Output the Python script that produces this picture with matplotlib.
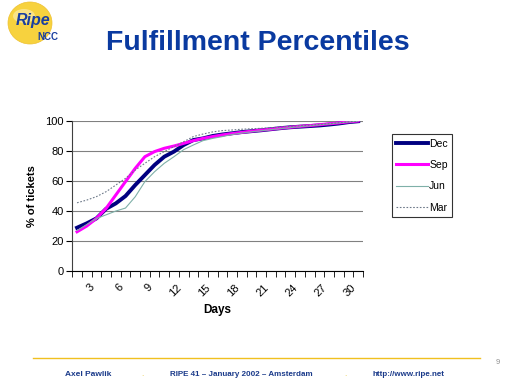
import matplotlib
matplotlib.use('Agg')
import matplotlib.pyplot as plt
from matplotlib.patches import Ellipse
from matplotlib.lines import Line2D

plt.rcParams['font.family'] = ['Liberation Sans', 'DejaVu Sans']

# --- datos ---
days = list(range(1, 31))
dec = [28.9, 31.8, 35.1, 41.5, 45.1, 50.0, 57.3, 64.0, 70.7, 76.2,
       79.6, 84.0, 87.3, 88.4, 90.0, 91.0, 91.8, 92.6, 93.2, 93.8,
       94.5, 95.2, 95.8, 96.2, 96.6, 97.0, 97.6, 98.3, 99.2, 99.8]
sep = [26.2, 30.0, 35.1, 41.8, 50.7, 59.6, 68.4, 76.2, 79.6, 81.8,
       83.3, 85.1, 86.9, 88.4, 89.6, 90.7, 91.6, 92.4, 93.2, 93.9,
       94.5, 95.2, 95.8, 96.4, 96.9, 97.5, 98.1, 98.7, 99.4, 100.0]
jun = [27.0, 31.0, 35.0, 37.5, 40.0, 42.0, 49.5, 59.6, 66.2, 71.8,
       76.2, 80.9, 84.0, 86.9, 88.4, 89.6, 91.0, 92.0, 92.8, 93.5,
       94.2, 94.9, 95.6, 96.2, 96.8, 97.4, 98.0, 98.7, 99.3, 99.9]
mar = [45.5, 47.3, 49.6, 52.9, 57.3, 61.8, 67.3, 71.8, 76.2, 79.6,
       82.9, 86.2, 89.6, 91.3, 92.7, 93.6, 94.0, 94.5, 94.8, 95.1,
       95.5, 96.0, 96.4, 96.8, 97.2, 97.7, 98.2, 98.8, 99.4, 100.0]
series = [('Dec', dec), ('Sep', sep), ('Jun', jun), ('Mar', mar)]
y_ticks = [0, 20, 40, 60, 80, 100]
x_labels = [3, 6, 9, 12, 15, 18, 21, 24, 27, 30]

estilos = {
    'Dec': dict(color='#000080', lw=2.8, ls='-'),
    'Sep': dict(color='#ff00ff', lw=2.2, ls='-'),
    'Jun': dict(color='#7fb0a8', lw=0.8, ls='-'),
    'Mar': dict(color='#6e7a8a', lw=0.8, ls=(0, (1.5, 1.5))),
}

fig = plt.figure(figsize=(5.12, 3.84), dpi=100)
fig.patch.set_facecolor('white')

ax = fig.add_axes([0.141, 0.294, 0.568, 0.391])
for nombre, vals in series:
    ax.plot(days, vals, label=nombre, **estilos[nombre])

ax.set_xlim(0.5, 30.5)
ax.set_ylim(0, 100)
ax.set_yticks(y_ticks)
ax.yaxis.grid(True, color='#808080', lw=0.8)
ax.set_axisbelow(True)
ax.tick_params(axis='y', labelsize=8, length=4, width=0.8, colors='black', pad=2)
ax.set_xticks(x_labels)
ax.set_xticklabels([str(v) for v in x_labels], rotation=45, ha='right', va='top')
ax.set_xticks([d + 0.5 for d in range(0, 31)], minor=True)
ax.tick_params(axis='x', which='major', length=0, labelsize=8, pad=8)
ax.tick_params(axis='x', which='minor', length=4, width=0.6)
for s in ['top', 'right']:
    ax.spines[s].set_visible(False)
ax.spines['left'].set_color('#404040')
ax.spines['bottom'].set_color('black')
ax.set_ylabel('% of tickets', fontsize=8, fontweight='bold', labelpad=6)
ax.set_xlabel('Days', fontsize=8.5, fontweight='bold', labelpad=4)

handles = [Line2D([], [], **estilos[n]) for n, _ in series]
leg = fig.legend(handles, [n for n, _ in series], loc='upper left',
                 bbox_to_anchor=(0.766, 0.650), fontsize=7.5, frameon=True,
                 fancybox=False, edgecolor='black', handlelength=3.0,
                 handletextpad=0.15, labelspacing=1.1, borderpad=0.4,
                 borderaxespad=0)
leg.get_frame().set_linewidth(0.8)

# titulo
fig.text(0.503, 0.888, 'Fulfillment Percentiles', fontsize=20.5, fontweight='bold',
         color='#0a3aa0', ha='center', va='center')

# logo
fig.patches.append(Ellipse((30 / 512, 1 - 23 / 384), 44 / 512, 42 / 384,
                           transform=fig.transFigure, facecolor='#f7d23e',
                           edgecolor='#eec030', lw=0.5))
fig.patches.append(Ellipse((24 / 512, 1 - 16 / 384), 22 / 512, 14 / 384,
                           transform=fig.transFigure, facecolor='#fbe89a',
                           edgecolor='none', alpha=0.8))
fig.text(33 / 512, 1 - 21 / 384, 'Ripe', fontsize=11.5, fontweight='bold', style='italic',
         color='#1a3fa0', ha='center', va='center')
fig.text(48 / 512, 1 - 37 / 384, 'NCC', fontsize=7, fontweight='bold',
         color='#1a3fa0', ha='center', va='center')

# pie de pagina
fig.add_artist(Line2D([0.065, 0.937], [0.068, 0.068], color='#f0c020', lw=1.0))
azul = '#1a3a8a'
fig.text(0.127, 0.026, 'Axel Pawlik', fontsize=6, fontweight='bold', color=azul, va='center')
fig.text(0.275, 0.026, '.', fontsize=6, color='#e8c840', va='center')
fig.text(0.332, 0.026, 'RIPE 41 \u2013 January 2002 \u2013 Amsterdam', fontsize=5.8,
         fontweight='bold', color=azul, va='center')
fig.text(0.672, 0.026, '.', fontsize=6, color='#e8c840', va='center')
fig.text(0.727, 0.026, 'http://www.ripe.net', fontsize=5.8, fontweight='bold',
         color=azul, va='center')
fig.text(0.972, 0.055, '9', fontsize=5.5, color='#909090', ha='center', va='center')

fig.savefig('out.png', dpi=100)
